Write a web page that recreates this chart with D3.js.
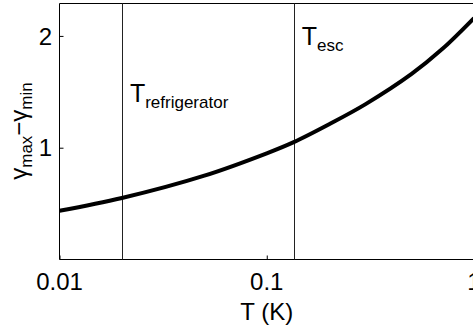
<!DOCTYPE html>
<html>
<head>
<meta charset="utf-8">
<script src="https://cdn.jsdelivr.net/npm/d3@7"></script>
<style>
  html, body { margin: 0; padding: 0; background: #fff; }
  svg { display: block; font-family: "Liberation Sans", Arial, Helvetica, sans-serif; }
</style>
</head>
<body>
<svg id="chart" width="473" height="332"></svg>
<script>
// Temperature (K) and the width of the gamma window at that temperature
const temperature = [0.01, 0.02, 0.05, 0.1, 0.135, 0.2, 0.3, 0.5, 0.7, 1.0];
const gammaSpread = [0.436, 0.55, 0.75, 0.95, 1.05, 1.21, 1.39, 1.66, 1.88, 2.16];

// Reference temperatures marked with vertical lines
const markerNames = ["refrigerator", "esc"];
const markerTemps = [0.02, 0.135];

const xTickValues = [0.01, 0.1, 1];
const xTickLabels = ["0.01", "0.1", "1"];
const yTickValues = [1, 2];
const yTickLabels = ["1", "2"];

const svg = d3.select("#chart");
const plot = { left: 59.5, right: 474, top: 3.5, bottom: 259.5 };

const x = d3.scaleLog().domain([0.01, 1]).range([plot.left, plot.right]);
const y = d3.scaleLinear().domain([0, 2.29]).range([plot.bottom, plot.top]);

// Frame (left, top, bottom edges; the right edge sits just past the window)
svg.append("path")
  .attr("d", `M${plot.right + 1},${plot.top}H${plot.left}V${plot.bottom}H${plot.right + 1}`)
  .attr("fill", "none").attr("stroke", "#000").attr("stroke-width", 1);

// Inward tick marks
const xAxis = d3.axisBottom(x).tickValues(xTickValues).tickSize(-4).tickFormat("");
svg.append("g").attr("transform", `translate(0,${plot.bottom})`).call(xAxis)
  .call(g => g.select(".domain").remove());
const yAxis = d3.axisLeft(y).tickValues(yTickValues).tickSize(-4).tickFormat("");
svg.append("g").attr("transform", `translate(${plot.left},0)`).call(yAxis)
  .call(g => g.select(".domain").remove());

// Tick labels
svg.append("g").selectAll("text").data(xTickValues).join("text")
  .attr("x", d => x(d)).attr("y", 290)
  .attr("text-anchor", "middle").attr("font-size", 24).attr("fill", "#000")
  .text((d, i) => xTickLabels[i]);
svg.append("g").selectAll("text").data(yTickValues).join("text")
  .attr("x", 52).attr("y", d => y(d)).attr("dy", "0.36em")
  .attr("text-anchor", "end").attr("font-size", 24).attr("fill", "#000")
  .text((d, i) => yTickLabels[i]);

// Axis titles
svg.append("text").attr("x", (plot.left + plot.right) / 2).attr("y", 320)
  .attr("text-anchor", "middle").attr("font-size", 24).attr("fill", "#000")
  .text("T (K)");

const yTitle = svg.append("text")
  .attr("transform", "translate(27,131) rotate(-90)")
  .attr("text-anchor", "middle").attr("font-size", 24).attr("fill", "#000");
yTitle.append("tspan").text("γ");
yTitle.append("tspan").attr("font-size", 17).attr("dy", 5).text("max");
yTitle.append("tspan").attr("dy", -5).text("−γ");
yTitle.append("tspan").attr("font-size", 17).attr("dy", 5).text("min");

// Vertical marker lines
svg.append("g").selectAll("line").data(markerTemps).join("line")
  .attr("x1", d => Math.round(x(d)) + 0.5).attr("x2", d => Math.round(x(d)) + 0.5)
  .attr("y1", plot.top).attr("y2", plot.bottom)
  .attr("stroke", "#222").attr("stroke-width", 1);

// Marker labels
const labelPos = [{ dx: 8, y: 102 }, { dx: 8, y: 45 }];
markerTemps.forEach((t, i) => {
  const lab = svg.append("text")
    .attr("x", x(t) + labelPos[i].dx).attr("y", labelPos[i].y)
    .attr("font-size", 25).attr("fill", "#000");
  lab.append("tspan").text("T");
  lab.append("tspan").attr("font-size", 17).attr("dy", 6).text(markerNames[i]);
});

// Curve
const line = d3.line()
  .x((d, i) => x(temperature[i]))
  .y(d => y(d))
  .curve(d3.curveCatmullRom);
svg.append("path").datum(gammaSpread)
  .attr("d", line)
  .attr("fill", "none").attr("stroke", "#000").attr("stroke-width", 4);
</script>
</body>
</html>
